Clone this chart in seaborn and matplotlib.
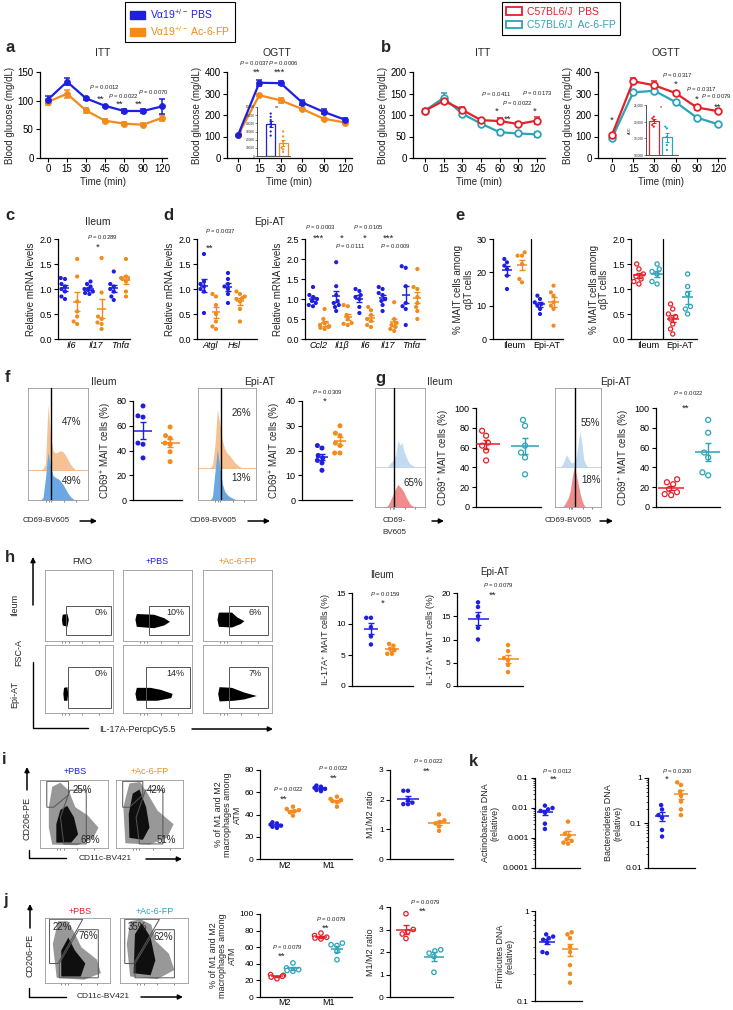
import warnings
warnings.filterwarnings('ignore')
import numpy as np
import pandas as pd
import matplotlib
matplotlib.use('Agg')
import matplotlib.pyplot as plt
import matplotlib.patches as mpatches
from matplotlib.lines import Line2D
from matplotlib.ticker import NullFormatter
import seaborn as sns

# ---------------- data ----------------
itt_time = ['0', '15', '30', '45', '60', '90', '120']
ogtt_time = ['0', '15', '30', '60', '90', '120']

a_itt_pbs = [102, 133, 104, 91, 82, 82, 90]
a_itt_pbs_sem = [6, 6, 2, 2, 4, 4, 13]
a_itt_fp = [98, 112, 83, 65, 60, 58, 70]
a_itt_fp_sem = [5, 7, 4, 3, 2, 3, 5]
a_ogtt_pbs = [105, 350, 348, 258, 215, 178]
a_ogtt_pbs_sem = [3, 15, 10, 12, 12, 10]
a_ogtt_fp = [105, 292, 268, 228, 183, 165]
a_ogtt_fp_sem = [3, 5, 10, 5, 5, 5]
a_auc_pbs = [52000, 48000, 44000, 40000, 36000, 30000, 25000]
a_auc_fp = [30000, 24000, 18000, 15000, 10000, 8000, 5000]

b_itt_pbs = [110, 133, 112, 88, 86, 79, 87]
b_itt_pbs_sem = [3, 5, 7, 3, 8, 4, 8]
b_itt_fp = [110, 140, 103, 80, 60, 57, 55]
b_itt_fp_sem = [3, 12, 4, 3, 6, 3, 5]
b_ogtt_pbs = [108, 357, 338, 302, 235, 218]
b_ogtt_pbs_sem = [5, 15, 20, 10, 12, 8]
b_ogtt_fp = [93, 305, 313, 260, 188, 157]
b_ogtt_fp_sem = [4, 8, 8, 5, 4, 5]
b_auc_pbs = [21500, 21000, 20500, 19000, 18500]
b_auc_fp = [18500, 18000, 15500, 13000, 11500]

c_genes = ['Il6', 'Il17', 'Tnfα']
c_il6_pbs = [1.2, 1.22, 1.1, 1.05, 1.0, 0.95, 0.85, 0.8]
c_il6_fp = [1.6, 1.25, 0.75, 0.55, 0.45, 0.35, 0.3]
c_il17_pbs = [1.15, 1.1, 1.05, 1.0, 0.98, 0.95, 0.92, 0.9]
c_il17_fp = [1.62, 0.93, 0.45, 0.4, 0.33, 0.3, 0.2]
c_tnf_pbs = [1.35, 1.1, 1.05, 1.0, 0.95, 0.85, 0.78]
c_tnf_fp = [1.6, 1.25, 1.22, 1.2, 1.2, 1.15, 0.95, 0.85]

d1_genes = ['Atgl', 'Hsl']
d_atgl_pbs = [1.7, 1.15, 1.1, 1.05, 1.0, 0.95, 0.52]
d_atgl_fp = [0.9, 0.85, 0.68, 0.5, 0.35, 0.25, 0.2]
d_hsl_pbs = [1.32, 1.2, 1.1, 1.05, 1.0, 0.9, 0.72]
d_hsl_fp = [0.95, 0.9, 0.85, 0.82, 0.8, 0.75, 0.6, 0.35]

d2_genes = ['Ccl2', 'Il1β', 'Il6', 'Il17', 'Tnfα']
d_ccl2_pbs = [1.3, 1.1, 1.05, 1.0, 0.95, 0.9, 0.85, 0.82]
d_ccl2_fp = [0.75, 0.5, 0.4, 0.35, 0.32, 0.3, 0.28, 0.25]
d_il1b_pbs = [1.92, 1.32, 1.1, 0.95, 0.9, 0.85, 0.8, 0.7]
d_il1b_fp = [0.85, 0.82, 0.6, 0.5, 0.4, 0.38, 0.35]
d_il6_pbs = [1.25, 1.2, 1.1, 1.05, 1.0, 0.8, 0.65]
d_il6_fp = [0.8, 0.72, 0.6, 0.5, 0.45, 0.35, 0.3]
d_il17_pbs = [1.3, 1.25, 1.15, 1.1, 1.0, 0.95, 0.85, 0.7]
d_il17_fp = [0.92, 0.5, 0.4, 0.35, 0.3, 0.25, 0.2]
d_tnf_pbs = [1.82, 1.78, 1.32, 0.9, 0.82, 0.75, 0.35]
d_tnf_fp = [1.75, 1.3, 1.25, 1.05, 0.9, 0.8, 0.7, 0.5]

tissues = ['Ileum', 'Epi-AT']
e_va_ileum_pbs = [24, 23, 22, 21, 19, 15]
e_va_ileum_fp = [26, 25, 25, 22.5, 18, 17]
e_va_epi_pbs = [13, 12, 11, 10.5, 10, 9, 7.5]
e_va_epi_fp = [16, 14, 13, 11, 10, 9, 4]
e_wt_ileum_pbs = [1.5, 1.4, 1.3, 1.25, 1.2, 1.15, 1.1]
e_wt_ileum_fp = [1.5, 1.4, 1.35, 1.3, 1.15, 1.1]
e_wt_epi_pbs = [0.7, 0.6, 0.5, 0.45, 0.4, 0.3, 0.2, 0.1]
e_wt_epi_fp = [1.3, 1.05, 0.9, 0.65, 0.6, 0.5]

f_ileum_pbs = [76, 68, 67, 46, 45, 34]
f_ileum_fp = [59, 52, 50, 46, 45, 39, 31]
f_epi_pbs = [22, 21, 18, 17, 16, 15, 12]
f_epi_fp = [30, 27, 26, 23, 22, 19, 19]
# flow histograms (bin heights, fraction of panel height)
f_hist_ileum_fp = [0, 0, 0, 0, 0, 0, 0.01, 0.05, 0.58, 0.30, 0.17, 0.15, 0.16, 0.17, 0.16, 0.13, 0.09, 0.05, 0.02, 0, 0, 0, 0, 0, 0]
f_hist_ileum_pbs = [0, 0, 0, 0, 0, 0, 0.02, 0.2, 0.43, 0.3, 0.22, 0.2, 0.19, 0.17, 0.14, 0.1, 0.06, 0.03, 0.01, 0, 0, 0, 0, 0, 0]
f_hist_epi_fp = [0, 0, 0, 0, 0, 0, 0.02, 0.2, 0.52, 0.4, 0.25, 0.17, 0.13, 0.11, 0.08, 0.05, 0.03, 0.01, 0, 0, 0, 0, 0, 0, 0]
f_hist_epi_pbs = [0, 0, 0, 0, 0, 0, 0.03, 0.25, 0.45, 0.3, 0.15, 0.08, 0.05, 0.03, 0.02, 0.01, 0, 0, 0, 0, 0, 0, 0, 0, 0]

g_ileum_pbs = [77, 72, 65, 62, 57, 47]
g_ileum_fp = [88, 82, 62, 55, 50, 33]
g_epi_pbs = [28, 25, 23, 18, 15, 13, 12]
g_epi_fp = [88, 75, 55, 50, 35, 32]
g_hist_ileum_fp = [0, 0, 0, 0, 0, 0, 0, 0.02, 0.04, 0.06, 0.1, 0.22, 0.18, 0.2, 0.12, 0.08, 0.04, 0.02, 0.01, 0, 0, 0, 0, 0, 0]
g_hist_ileum_pbs = [0, 0, 0, 0, 0, 0, 0.01, 0.04, 0.08, 0.12, 0.16, 0.19, 0.17, 0.15, 0.12, 0.08, 0.05, 0.02, 0.01, 0, 0, 0, 0, 0, 0]
g_hist_epi_fp = [0, 0, 0, 0, 0.02, 0.06, 0.1, 0.07, 0.04, 0.03, 0.04, 0.08, 0.18, 0.3, 0.2, 0.06, 0.02, 0, 0, 0, 0, 0, 0, 0, 0]
g_hist_epi_pbs = [0, 0, 0, 0, 0, 0.02, 0.05, 0.08, 0.14, 0.25, 0.34, 0.28, 0.2, 0.12, 0.06, 0.02, 0, 0, 0, 0, 0, 0, 0, 0, 0]

h_ileum_pbs = [11, 11, 9.5, 8, 6.7]
h_ileum_fp = [6.8, 6.5, 6, 5.8, 5.2, 5.2]
h_epi_pbs = [18, 17, 15, 12.5, 10]
h_epi_fp = [8.8, 7.5, 6, 5.5, 4.5, 3]
h_pct = ['0%', '10%', '6%', '0%', '14%', '7%']

macro = ['M2', 'M1']
i_m2_pbs = [33, 32, 31, 30, 29, 28]
i_m2_fp = [47, 45, 44, 43, 42, 39]
i_m1_pbs = [66, 65, 64, 63, 62, 61]
i_m1_fp = [56, 54, 53, 52, 51, 47]
i_ratio_pbs = [2.3, 2.3, 2.0, 1.9, 1.85, 1.85]
i_ratio_fp = [1.5, 1.3, 1.25, 1.2, 1.1, 0.95]
i_pct = ['25%', '68%', '42%', '51%']

k_actino_pbs = [0.012, 0.01, 0.009, 0.008, 0.007, 0.003, 0.002]
k_actino_fp = [0.0035, 0.0014, 0.0012, 0.0009, 0.0008, 0.0007, 0.00065]
k_bacter_pbs = [0.25, 0.2, 0.15, 0.13, 0.07, 0.05]
k_bacter_fp = [0.8, 0.7, 0.5, 0.4, 0.3, 0.2, 0.15]
k_firm_pbs = [0.55, 0.52, 0.5, 0.48, 0.45, 0.35, 0.34]
k_firm_fp = [0.58, 0.55, 0.5, 0.4, 0.35, 0.25, 0.2, 0.16]

j_m2_pbs = [27, 26, 25, 24, 22]
j_m2_fp = [41, 35, 33, 32, 31]
j_m1_pbs = [77, 74, 72, 71, 70]
j_m1_fp = [65, 63, 62, 55, 45]
j_ratio_pbs = [3.7, 3.0, 2.9, 2.8, 2.6]
j_ratio_fp = [2.1, 2.05, 1.95, 1.8, 1.1]
j_pct = ['22%', '76%', '35%', '62%']

# ---------------- style ----------------
BLUE = '#1f1fe0'
ORANGE = '#f28a1c'
RED = '#e4202a'
TEAL = '#2ba3b8'

sns.set_theme(style='ticks')
plt.rcParams['font.family'] = ['Liberation Sans', 'DejaVu Sans']
plt.rcParams['mathtext.fontset'] = 'custom'
plt.rcParams['mathtext.rm'] = 'Liberation Sans'
plt.rcParams['mathtext.it'] = 'Liberation Sans:italic'
plt.rcParams['mathtext.bf'] = 'Liberation Sans:bold'

W, H = 733, 1010
fig = plt.figure(figsize=(W / 100, H / 100), dpi=100)
fig.patch.set_facecolor('white')


def axpx(l, t, r, b):
    return fig.add_axes([l / W, 1 - b / H, (r - l) / W, (b - t) / H])


def T(x, y, s, size=6.5, ha='center', va='center', **kw):
    fig.text(x / W, 1 - y / H, s, fontsize=size, ha=ha, va=va, **kw)


def P(x, y, s):
    T(x, y, r'$P$ = ' + s, size=4.3)


def S(x, y, s):
    T(x, y + 3, s, size=6.8)


def arrow(x1, y1, x2, y2):
    fig.add_artist(mpatches.FancyArrowPatch((x1 / W, 1 - y1 / H), (x2 / W, 1 - y2 / H),
                                            transform=fig.transFigure, arrowstyle='-|>',
                                            mutation_scale=7, lw=1.1, color='black',
                                            shrinkA=0, shrinkB=0))


def seg(xs, ys, lw=1.0):
    fig.add_artist(Line2D([x / W for x in xs], [1 - y / H for y in ys],
                          transform=fig.transFigure, color='black', lw=lw))


def style(ax, fs=6.5):
    sns.despine(ax=ax)
    ax.set_facecolor('none')
    for sp in ('left', 'bottom'):
        ax.spines[sp].set_linewidth(0.9)
        ax.spines[sp].set_color('black')
    ax.tick_params(labelsize=fs, length=3, width=0.8, pad=1.5, color='black', labelcolor='black')


def glucose(rect, times, m1, s1, m2, s2, c1, c2, hollow, ylim, yticks, xlim):
    ax = axpx(*rect)
    x = np.arange(len(times))
    for m, s, c in ((m2, s2, c2), (m1, s1, c1)):
        ax.errorbar(x, m, yerr=s, fmt='none', ecolor=c, elinewidth=1.1, capsize=2,
                    capthick=1.1, zorder=2)
        sns.lineplot(x=x, y=m, ax=ax, color=c, linewidth=1.6, marker='o',
                     markersize=4.8 if hollow else 4.4,
                     markerfacecolor='white' if hollow else c, markeredgecolor=c,
                     markeredgewidth=1.3 if hollow else 0.5, zorder=3)
    ax.set_xticks(x, times)
    ax.set_xlim(*xlim)
    ax.set_ylim(*ylim)
    ax.set_yticks(yticks)
    style(ax, 7)
    ax.set_xlabel('Time (min)', fontsize=7, labelpad=2)
    ax.set_ylabel('Blood glucose (mg/dL)', fontsize=7, labelpad=2)
    return ax


def auc_inset(rect, v1, v2, c1, c2, ylim, yticks, ylabels, xlim):
    ax = axpx(*rect)
    df = pd.DataFrame({'g': ['P'] * len(v1) + ['A'] * len(v2), 'v': list(v1) + list(v2)})
    pal = {'P': c1, 'A': c2}
    sns.barplot(data=df, x='g', y='v', hue='g', order=['P', 'A'], palette=pal, fill=False,
                errorbar=None, linewidth=0.9, width=0.72, legend=False, ax=ax)
    sns.swarmplot(data=df, x='g', y='v', hue='g', order=['P', 'A'], palette=pal, size=1.6,
                  legend=False, ax=ax)
    for i, (v, c) in enumerate(((v1, c1), (v2, c2))):
        m = np.mean(v)
        s = np.std(v, ddof=1) / np.sqrt(len(v))
        ax.errorbar(i, m, yerr=s, color=c, lw=0.7, capsize=1.2, capthick=0.7)
    ax.set_ylim(*ylim)
    ax.set_xlim(*xlim)
    ax.set_yticks(yticks, ylabels)
    ax.set_xticks([])
    ax.set_xlabel('')
    ax.set_ylabel('AUC', fontsize=2.6, labelpad=1)
    sns.despine(ax=ax)
    ax.set_facecolor('none')
    for sp in ('left', 'bottom'):
        ax.spines[sp].set_linewidth(0.6)
        ax.spines[sp].set_color('#333333')
    ax.tick_params(labelsize=2.3, length=1.2, width=0.4, pad=0.5)
    return ax


def dots(rect, groups, pos, colors, xlim, ylim, yticks, ylabels=None, hollow=False,
         size=3.0, mw=0.7, log=False, fs=6.5):
    ax = axpx(*rect)
    if log:
        ax.set_yscale('log')
    n = [len(g) for g in groups]
    df = pd.DataFrame({'pos': np.repeat(pos, n),
                       'val': np.concatenate([np.asarray(g, float) for g in groups]),
                       'grp': np.repeat([str(i) for i in range(len(groups))], n)})
    pal = {str(i): c for i, c in enumerate(colors)}
    n0 = len(ax.collections)
    sns.swarmplot(data=df, x='pos', y='val', hue='grp', palette=pal, native_scale=True,
                  size=size, legend=False, linewidth=0, zorder=3, ax=ax)
    if hollow:
        for coll in ax.collections[n0:]:
            fc = coll.get_facecolor()
            coll.set_facecolor('white')
            coll.set_edgecolor(fc)
            coll.set_linewidth(0.9)
    for g, p, c in zip(groups, pos, colors):
        m = np.mean(g)
        s = np.std(g, ddof=1) / np.sqrt(len(g))
        ax.hlines(m, p - mw / 2, p + mw / 2, color=c, lw=1.1, zorder=4)
        ax.errorbar(p, m, yerr=s, color=c, lw=1.0, capsize=2.2, capthick=1.0, zorder=4)
    ax.set_xlim(*xlim)
    ax.set_ylim(*ylim)
    if ylabels is None:
        ax.set_yticks(yticks)
    else:
        ax.set_yticks(yticks, ylabels)
    if log:
        ax.yaxis.set_minor_formatter(NullFormatter())
    ax.set_xlabel('')
    ax.set_ylabel('')
    style(ax, fs)
    ax.tick_params(axis='x', length=0)
    ax.tick_params(axis='y', which='minor', length=1.6, width=0.6)
    ax.set_xticks([])
    return ax


def flowhist(rect, top, bot, base, ctop, cbot, cline, gate, labs):
    ax = axpx(*rect)
    x = np.linspace(0, 1, len(top))
    ax.fill_between(x, base, base + np.asarray(top), color=ctop, lw=0, zorder=1)
    ax.fill_between(x, 0, bot, color=cbot, lw=0, zorder=2)
    ax.axhline(base, color=cline, lw=0.6, zorder=1.5)
    ax.axvline(gate, color='black', lw=1.0, zorder=4)
    for lx, ly, s in labs:
        ax.text(lx, ly, s, transform=ax.transAxes, fontsize=7, ha='center', va='center')
    ax.set_xlim(0, 1)
    ax.set_ylim(0, 1)
    ax.set_xticks([0.3, 0.35, 0.38, 0.6, 0.8])
    ax.set_yticks([])
    ax.tick_params(axis='x', length=1.5, width=0.5, labelbottom=False, color='#555555')
    for sp in ax.spines.values():
        sp.set_color('#9a9a9a')
        sp.set_linewidth(0.6)
    return ax


def flowdots(rect, clouds, gates, labs, fs=6.5):
    ax = axpx(*rect)
    for poly, col, alpha in clouds:
        ax.add_patch(mpatches.Polygon(poly, closed=True, facecolor=col, edgecolor='none',
                                      alpha=alpha))
    for g in gates:
        ax.add_patch(mpatches.Polygon(g, closed=True, fill=False, edgecolor='#555555', lw=0.7))
    for lx, ly, s in labs:
        ax.text(lx, ly, s, transform=ax.transAxes, fontsize=fs, ha='center', va='center')
    ax.set_xlim(0, 1)
    ax.set_ylim(0, 1)
    ax.set_xticks([0.25, 0.3, 0.35, 0.55, 0.8])
    ax.set_yticks([])
    ax.tick_params(axis='x', length=1.5, width=0.5, labelbottom=False, color='#555555')
    for sp in ax.spines.values():
        sp.set_color('#9a9a9a')
        sp.set_linewidth(0.6)
    return ax


# ---------------- legends ----------------
leg1 = fig.legend([mpatches.Patch(facecolor=BLUE, edgecolor=BLUE),
                   mpatches.Patch(facecolor=ORANGE, edgecolor=ORANGE)],
                  ['Vα19$^{+/-}$ PBS', 'Vα19$^{+/-}$ Ac-6-FP'],
                  loc='upper center', bbox_to_anchor=(180 / W, 1.003), fontsize=7.5,
                  labelcolor=[BLUE, ORANGE], frameon=True, fancybox=False, edgecolor='black',
                  framealpha=1, handlelength=1.5, handleheight=0.75, borderpad=0.45,
                  labelspacing=0.3, handletextpad=0.5)
leg1.get_frame().set_linewidth(0.8)
leg2 = fig.legend([mpatches.Patch(facecolor='white', edgecolor=RED, lw=1.3),
                   mpatches.Patch(facecolor='white', edgecolor=TEAL, lw=1.3)],
                  ['C57BL6/J  PBS', 'C57BL6/J  Ac-6-FP'],
                  loc='upper center', bbox_to_anchor=(561 / W, 1.003), fontsize=7.5,
                  labelcolor=[RED, TEAL], frameon=True, fancybox=False, edgecolor='black',
                  framealpha=1, handlelength=1.5, handleheight=0.75, borderpad=0.45,
                  labelspacing=0.3, handletextpad=0.5)
leg2.get_frame().set_linewidth(0.8)

# ---------------- panel a ----------------
glucose((40, 72, 167, 158), itt_time, a_itt_pbs, a_itt_pbs_sem, a_itt_fp, a_itt_fp_sem,
        BLUE, ORANGE, False, (0, 150), [0, 50, 100, 150], (-0.42, 6.26))
glucose((227, 72, 352, 158), ogtt_time, a_ogtt_pbs, a_ogtt_pbs_sem, a_ogtt_fp, a_ogtt_fp_sem,
        BLUE, ORANGE, False, (0, 400), [0, 100, 200, 300, 400], (-0.51, 5.33))
auc_inset((257, 107, 290, 156), a_auc_pbs, a_auc_fp, BLUE, ORANGE, (0, 60000),
          [0, 10000, 20000, 30000, 40000, 50000, 60000],
          ['0', '10000', '20000', '30000', '40000', '50000', '60000'], (-1.1, 1.55))
T(5, 48, 'a', 12, ha='left', weight='bold')
T(103, 53, 'ITT', 7.5)
T(277, 53, 'OGTT', 7.5)
P(104, 87, '0.0012'); S(101, 96, '**')
P(123, 96, '0.0022'); S(120, 101, '**')
P(153, 92, '0.0070'); S(139, 101, '**')
P(254, 63, '0.0037'); S(257, 69, '**')
P(283, 63, '0.0006'); S(279, 69, '***')
T(277, 108, '**', 4)

# ---------------- panel b ----------------
glucose((413, 72, 545, 158), itt_time, b_itt_pbs, b_itt_pbs_sem, b_itt_fp, b_itt_fp_sem,
        RED, TEAL, True, (0, 200), [0, 50, 100, 150, 200], (-0.64, 6.43))
glucose((598, 72, 725, 158), ogtt_time, b_ogtt_pbs, b_ogtt_pbs_sem, b_ogtt_fp, b_ogtt_fp_sem,
        RED, TEAL, True, (0, 400), [0, 100, 200, 300, 400], (-0.66, 5.33))
auc_inset((646, 105, 678, 155), b_auc_pbs, b_auc_fp, RED, TEAL, (10000, 25000),
          [10000, 15000, 20000, 25000], ['10,000', '15,000', '20,000', '25,000'], (-0.6, 1.85))
T(381, 48, 'b', 12, ha='left', weight='bold')
T(483, 53, 'ITT', 7.5)
T(666, 53, 'OGTT', 7.5)
P(496, 94, '0.0411'); S(497, 108, '*')
P(517, 103, '0.0022'); S(508, 116, '**')
P(537, 93, '0.0173'); S(535, 108, '*')
S(612, 117, '*')
P(677, 75, '0.0317'); S(676, 81, '*')
P(701, 89, '0.0317'); S(697, 96, '*')
P(716, 96, '0.0079'); S(718, 104, '**')
T(661, 108, '*', 4)

# ---------------- panel c ----------------
ax = dots((58, 239, 130, 339), [c_il6_pbs, c_il6_fp, c_il17_pbs, c_il17_fp, c_tnf_pbs, c_tnf_fp],
          [0, 1, 2, 3, 4, 5], [BLUE, ORANGE] * 3, (-0.57, 5.33), (0, 2),
          [0, 0.5, 1, 1.5, 2], ['0.0', '0.5', '1.0', '1.5', '2.0'])
ax.set_xticks([0.5, 2.5, 4.5], c_genes, fontstyle='italic')
ax.set_ylabel('Relative mRNA levels', fontsize=7, labelpad=2)
T(5, 215, 'c', 12, ha='left', weight='bold')
T(98, 222, 'Ileum', 7.5)
P(102, 237, '0.0289'); S(98, 244, '*')

# ---------------- panel d ----------------
ax = dots((197, 239, 257, 339), [d_atgl_pbs, d_atgl_fp, d_hsl_pbs, d_hsl_fp], [0, 1, 2, 3],
          [BLUE, ORANGE] * 2, (-0.58, 4.42), (0, 2), [0, 0.5, 1, 1.5, 2],
          ['0.0', '0.5', '1.0', '1.5', '2.0'])
ax.set_xticks([0.5, 2.5], d1_genes, fontstyle='italic')
ax.set_ylabel('Relative mRNA levels', fontsize=7, labelpad=2)
ax = dots((305, 239, 425, 339),
          [d_ccl2_pbs, d_ccl2_fp, d_il1b_pbs, d_il1b_fp, d_il6_pbs, d_il6_fp,
           d_il17_pbs, d_il17_fp, d_tnf_pbs, d_tnf_fp],
          list(range(10)), [BLUE, ORANGE] * 5, (-0.69, 9.66), (0, 2.5),
          [0, 0.5, 1, 1.5, 2, 2.5], ['0.0', '0.5', '1.0', '1.5', '2.0', '2.5'])
ax.set_xticks([0.5, 2.5, 4.5, 6.5, 8.5], d2_genes, fontstyle='italic')
ax.set_ylabel('Relative mRNA levels', fontsize=7, labelpad=2)
T(163, 215, 'd', 12, ha='left', weight='bold')
T(270, 222, 'Epi-AT', 7.5)
P(220, 231, '0.0037'); S(210, 245, '**')
P(320, 227, '0.0003'); S(318, 235, '***')
P(368, 227, '0.0105'); S(342, 235, '*')
P(350, 246, '0.0111'); S(365, 235, '*')
S(388, 235, '***'); P(395, 246, '0.0009')

# ---------------- panel e ----------------
ax = dots((493, 239, 563, 339), [e_va_ileum_pbs, e_va_ileum_fp, e_va_epi_pbs, e_va_epi_fp],
          [0, 1, 2.2, 3.1], [BLUE, ORANGE] * 2, (-0.93, 3.73), (0, 30), [0, 10, 20, 30])
ax.axvline(1.6, color='black', lw=0.9)
ax.set_xticks([0.5, 2.65], tissues)
ax.set_ylabel('% MAIT cells among\nαβT cells', fontsize=7, labelpad=2, linespacing=1.1)
ax = dots((631, 239, 697, 339), [e_wt_ileum_pbs, e_wt_ileum_fp, e_wt_epi_pbs, e_wt_epi_fp],
          [0, 1.1, 2.05, 2.95], [RED, TEAL] * 2, (-0.48, 3.52), (0, 2),
          [0, 0.5, 1, 1.5, 2], ['0.0', '0.5', '1.0', '1.5', '2.0'], hollow=True)
ax.axvline(1.45, color='black', lw=0.9)
ax.set_xticks([0.55, 2.5], tissues)
ax.set_ylabel('% MAIT cells among\nαβT cells', fontsize=7, labelpad=2, linespacing=1.1)
T(455, 215, 'e', 12, ha='left', weight='bold')

# ---------------- panel f ----------------
T(5, 378, 'f', 12, ha='left', weight='bold')
T(104, 382, 'Ileum', 7.5)
T(260, 382, 'Epi-AT', 7.5)
flowhist((28, 388, 88, 500), f_hist_ileum_fp, f_hist_ileum_pbs, 0.27, '#f6c293', '#6aa7e3',
         '#f0b27a', 0.38, [(0.73, 0.7, '47%'), (0.73, 0.17, '49%')])
flowhist((198, 388, 256, 500), f_hist_epi_fp, f_hist_epi_pbs, 0.29, '#f6c293', '#6aa7e3',
         '#f0b27a', 0.39, [(0.74, 0.78, '26%'), (0.74, 0.2, '13%')])
ax = dots((133, 401, 182, 500), [f_ileum_pbs, f_ileum_fp], [0, 1], [BLUE, ORANGE],
          (-0.37, 1.44), (0, 80), [0, 20, 40, 60, 80], size=3.6)
ax.set_ylabel('CD69$^{+}$ MAIT cells (%)', fontsize=7, labelpad=2)
ax = dots((302, 401, 352, 500), [f_epi_pbs, f_epi_fp], [0, 1], [BLUE, ORANGE],
          (-1.11, 1.67), (0, 40), [0, 10, 20, 30, 40], size=3.6)
ax.set_ylabel('CD69$^{+}$ MAIT cells (%)', fontsize=7, labelpad=2)
P(327, 392, '0.0309'); S(325, 398, '*')
T(46, 521, 'CD69-BV605', 5.8); arrow(80, 521, 97, 521)
T(213, 521, 'CD69-BV605', 5.8); arrow(248, 521, 270, 521)

# ---------------- panel g ----------------
T(375, 378, 'g', 12, ha='left', weight='bold')
T(440, 382, 'Ileum', 7.5)
T(616, 382, 'Epi-AT', 7.5)
flowhist((375, 388, 425, 507), g_hist_ileum_fp, g_hist_ileum_pbs, 0.34, '#c2dbf2', '#f08c8c',
         '#b9cde0', 0.37, [(0.76, 0.2, '65%')])
flowhist((555, 388, 601, 507), g_hist_epi_fp, g_hist_epi_pbs, 0.34, '#c2dbf2', '#f08c8c',
         '#b9cde0', 0.43, [(0.77, 0.71, '55%'), (0.78, 0.23, '18%')])
ax = dots((476, 408, 541, 507), [g_ileum_pbs, g_ileum_fp], [0, 1], [RED, TEAL],
          (-0.26, 1.41), (0, 100), [0, 20, 40, 60, 80, 100], hollow=True, size=3.6)
ax.set_ylabel('CD69$^{+}$ MAIT cells (%)', fontsize=7, labelpad=2)
ax = dots((656, 408, 720, 507), [g_epi_pbs, g_epi_fp], [0, 1], [RED, TEAL],
          (-0.41, 1.32), (0, 100), [0, 20, 40, 60, 80, 100], hollow=True, size=3.6)
ax.set_ylabel('CD69$^{+}$ MAIT cells (%)', fontsize=7, labelpad=2)
P(688, 393, '0.0022'); S(686, 405, '**')
T(394, 521, 'CD69-', 5.8); T(394, 533, 'BV605', 5.8); arrow(432, 521, 444, 521)
T(568, 521, 'CD69-BV605', 5.8); arrow(600, 521, 613, 521)

# ---------------- panel h ----------------
T(5, 558, 'h', 12, ha='left', weight='bold')
T(82, 562, 'FMO', 6.5)
T(157, 562, '+PBS', 6.5, color=BLUE)
T(238, 562, '+Ac-6-FP', 6.5, color=ORANGE)
h_clouds = [
    [(0.26, 0.22), (0.33, 0.2), (0.35, 0.3), (0.33, 0.38), (0.26, 0.37), (0.25, 0.3)],
    [(0.2, 0.2), (0.45, 0.18), (0.6, 0.22), (0.68, 0.27), (0.6, 0.32), (0.45, 0.37), (0.2, 0.38), (0.18, 0.3)],
    [(0.23, 0.2), (0.42, 0.19), (0.55, 0.24), (0.6, 0.28), (0.5, 0.33), (0.42, 0.4), (0.23, 0.4), (0.21, 0.3)],
    [(0.28, 0.18), (0.33, 0.18), (0.34, 0.28), (0.33, 0.38), (0.28, 0.37), (0.27, 0.28)],
    [(0.2, 0.18), (0.5, 0.18), (0.7, 0.22), (0.72, 0.28), (0.55, 0.34), (0.4, 0.37), (0.2, 0.37), (0.18, 0.28)],
    [(0.24, 0.17), (0.45, 0.18), (0.6, 0.2), (0.78, 0.25), (0.6, 0.3), (0.42, 0.37), (0.24, 0.38), (0.22, 0.28)],
]
h_gates = [(0.31, 0.97, 0.08, 0.5), (0.38, 0.96, 0.08, 0.5), (0.38, 0.94, 0.08, 0.5),
           (0.34, 0.97, 0.08, 0.68), (0.33, 0.97, 0.08, 0.68), (0.37, 0.94, 0.08, 0.68)]
h_cols = [(45, 113), (123, 192), (203, 272)]
for k in range(6):
    l, r = h_cols[k % 3]
    t, b = ((570, 641), (645, 713))[k // 3]
    gx0, gx1, gy0, gy1 = h_gates[k]
    flowdots((l, t, r, b), [(h_clouds[k], 'black', 1.0)],
             [[(gx0, gy0), (gx1, gy0), (gx1, gy1), (gx0, gy1)]],
             [(0.82 if k % 3 == 0 else 0.76, 0.4 if k < 3 else 0.58, h_pct[k])])
T(15, 605, 'Ileum', 6.5, rotation=90)
T(19, 652, 'FSC-A', 6.5, rotation=90)
T(15, 695, 'Epi-AT', 6.5, rotation=90)
arrow(33, 605, 33, 557)
seg([33, 33, 88], [662, 728, 728])
T(137, 730, 'IL-17A-PercpCy5.5', 6.5)
arrow(192, 729, 273, 729)

ax = dots((352, 593, 413, 686), [h_ileum_pbs, h_ileum_fp], [0, 1], [BLUE, ORANGE],
          (-0.9, 2.0), (0, 15), [0, 5, 10, 15], size=3.2, fs=6)
ax.set_ylabel('IL-17A$^{+}$ MAIT cells (%)', fontsize=6.5, labelpad=2)
ax = dots((457, 593, 523, 686), [h_epi_pbs, h_epi_fp], [0, 1], [BLUE, ORANGE],
          (-0.7, 1.5), (0, 20), [0, 5, 10, 15, 20], size=3.2, fs=6)
ax.set_ylabel('IL-17A$^{+}$ MAIT cells (%)', fontsize=6.5, labelpad=2)
T(382, 575, 'Ileum', 7)
T(495, 572, 'Epi-AT', 7)
P(385, 594, '0.0159'); S(383, 600, '*')
P(498, 585, '0.0079'); S(493, 592, '**')

# ---------------- panel i ----------------
T(2, 760, 'i', 12, ha='left', weight='bold')
T(75, 772, '+PBS', 6.5, color=BLUE)
T(150, 772, '+Ac-6-FP', 6.5, color=ORANGE)
i_clouds = [
    [([(0.18, 0.05), (0.55, 0.04), (0.78, 0.14), (0.86, 0.3), (0.7, 0.48), (0.52, 0.6), (0.42, 0.85), (0.3, 0.96), (0.18, 0.9), (0.13, 0.6), (0.13, 0.3)], '#444444', 0.55),
     ([(0.24, 0.08), (0.46, 0.08), (0.56, 0.2), (0.5, 0.45), (0.4, 0.62), (0.3, 0.56), (0.24, 0.35)], 'black', 0.9)],
    [([(0.14, 0.07), (0.5, 0.05), (0.76, 0.15), (0.86, 0.35), (0.62, 0.55), (0.46, 0.82), (0.36, 0.97), (0.2, 0.95), (0.11, 0.6)], '#444444', 0.55),
     ([(0.2, 0.15), (0.4, 0.12), (0.5, 0.3), (0.45, 0.6), (0.35, 0.86), (0.25, 0.8), (0.19, 0.5)], 'black', 0.9)],
]
i_gates = [
    [[(0.1, 0.6), (0.1, 0.98), (0.42, 0.98), (0.42, 0.78), (0.2, 0.6)],
     [(0.35, 0.06), (0.68, 0.06), (0.68, 0.85), (0.44, 0.85), (0.3, 0.45)]],
    [[(0.1, 0.6), (0.1, 0.98), (0.4, 0.98), (0.4, 0.78), (0.2, 0.6)],
     [(0.35, 0.06), (0.7, 0.06), (0.7, 0.85), (0.44, 0.85), (0.3, 0.45)]],
]
flowdots((40, 780, 108, 848), i_clouds[0], i_gates[0],
         [(0.62, 0.85, i_pct[0]), (0.74, 0.12, i_pct[1])], fs=7)
flowdots((116, 780, 183, 848), i_clouds[1], i_gates[1],
         [(0.6, 0.85, i_pct[2]), (0.75, 0.12, i_pct[3])], fs=7)
arrow(27, 790, 27, 767)
T(27, 818, 'CD206-PE', 6.5, rotation=90)
seg([29, 29, 66], [850, 858, 858])
T(105, 859, 'CD11c-BV421', 6)
arrow(146, 859, 182, 859)

ax = dots((260, 770, 352, 859), [i_m2_pbs, i_m2_fp, i_m1_pbs, i_m1_fp], [0, 1, 2.75, 3.75],
          [BLUE, ORANGE] * 2, (-1.06, 4.69), (0, 80), [0, 20, 40, 60, 80], size=3.2, fs=6)
ax.set_xticks([0.5, 3.25], macro)
ax.tick_params(axis='x', labelsize=6.5)
ax.set_ylabel('% of M1 and M2\nmacrophages among\nATM', fontsize=6.5, labelpad=2, linespacing=1.05)
ax = dots((390, 770, 453, 859), [i_ratio_pbs, i_ratio_fp], [0, 1], [BLUE, ORANGE],
          (-0.58, 1.45), (0, 3), [0, 1, 2, 3], size=3.2, fs=6)
ax.set_ylabel('M1/M2 ratio', fontsize=6.5, labelpad=3)
P(288, 789, '0.0022'); S(284, 796, '**')
P(333, 768, '0.0022'); S(334, 775, '**')
P(428, 761, '0.0022'); S(427, 768, '**')

# ---------------- panel k ----------------
T(469, 761, 'k', 12, ha='left', weight='bold')
ax = dots((535, 778, 580, 868), [k_actino_pbs, k_actino_fp], [0, 1], [BLUE, ORANGE],
          (-0.43, 1.52), (0.0001, 0.1), [0.0001, 0.001, 0.01, 0.1],
          ['0.0001', '0.001', '0.01', '0.1'], size=3.2, log=True, fs=6)
ax.set_ylabel('Actinobacteria DNA\n(relative)', fontsize=6.5, labelpad=2, linespacing=1.05)
ax = dots((648, 778, 695, 868), [k_bacter_pbs, k_bacter_fp], [0, 1], [BLUE, ORANGE],
          (-0.74, 1.74), (0.01, 1), [0.01, 0.1, 1], ['0.01', '0.1', '1'], size=3.2,
          log=True, fs=6)
ax.set_ylabel('Bacteroidetes DNA\n(relative)', fontsize=6.5, labelpad=2, linespacing=1.05)
P(557, 771, '0.0012'); S(554, 776, '**')
P(677, 771, '0.0200'); S(667, 776, '*')

# ---------------- panel j ----------------
T(3, 900, 'j', 12, ha='left', weight='bold')
T(80, 911, '+PBS', 6.5, color=RED)
T(155, 911, '+Ac-6-FP', 6.5, color=TEAL)
j_clouds = [
    [([(0.18, 0.08), (0.6, 0.05), (0.86, 0.15), (0.8, 0.36), (0.56, 0.55), (0.46, 0.76), (0.35, 0.95), (0.2, 0.95), (0.12, 0.6)], '#444444', 0.55),
     ([(0.25, 0.1), (0.55, 0.1), (0.62, 0.3), (0.46, 0.5), (0.36, 0.7), (0.25, 0.5)], 'black', 0.9)],
    [([(0.15, 0.1), (0.55, 0.06), (0.8, 0.2), (0.72, 0.45), (0.52, 0.65), (0.46, 0.9), (0.3, 0.98), (0.15, 0.95), (0.1, 0.6)], '#444444', 0.55),
     ([(0.2, 0.15), (0.45, 0.12), (0.52, 0.35), (0.45, 0.7), (0.32, 0.92), (0.22, 0.75)], 'black', 0.9)],
]
j_gates = [
    [[(0.07, 0.3), (0.07, 0.98), (0.58, 0.98), (0.2, 0.3)],
     [(0.22, 0.08), (0.82, 0.08), (0.82, 0.82), (0.52, 0.82), (0.22, 0.3)]],
    [[(0.07, 0.3), (0.07, 0.98), (0.58, 0.98), (0.2, 0.3)],
     [(0.22, 0.08), (0.8, 0.08), (0.8, 0.82), (0.52, 0.82), (0.22, 0.3)]],
]
flowdots((45, 918, 110, 983), j_clouds[0], j_gates[0],
         [(0.26, 0.86, j_pct[0]), (0.66, 0.72, j_pct[1])], fs=7)
flowdots((120, 918, 188, 983), j_clouds[1], j_gates[1],
         [(0.25, 0.86, j_pct[2]), (0.63, 0.7, j_pct[3])], fs=7)
arrow(30, 928, 30, 904)
T(30, 955, 'CD206-PE', 6.5, rotation=90)
seg([29, 29, 66], [988, 997, 997])
T(103, 997, 'CD11c-BV421', 6)
arrow(141, 997, 183, 997)

ax = dots((260, 914, 352, 997), [j_m2_pbs, j_m2_fp, j_m1_pbs, j_m1_fp], [0, 1, 2.75, 3.75],
          [RED, TEAL] * 2, (-1.06, 4.69), (0, 100), [0, 20, 40, 60, 80, 100], hollow=True,
          size=3.2, fs=6)
ax.set_xticks([0.5, 3.25], macro)
ax.tick_params(axis='x', labelsize=6.5, pad=1)
ax.set_ylabel('% of M1 and M2\nmacrophages among\nATM', fontsize=6.5, labelpad=2, linespacing=1.05)
ax = dots((390, 907, 453, 997), [j_ratio_pbs, j_ratio_fp], [0, 1], [RED, TEAL],
          (-0.57, 1.68), (0, 4), [0, 1, 2, 3, 4], hollow=True, size=3.2, fs=6)
ax.set_ylabel('M1/M2 ratio', fontsize=6.5, labelpad=3)
P(287, 947, '0.0079'); S(282, 953, '**')
P(331, 919, '0.0079'); S(326, 925, '**')
P(425, 902, '0.0079'); S(423, 908, '**')
ax = dots((535, 911, 582, 1001), [k_firm_pbs, k_firm_fp], [0, 1], [BLUE, ORANGE],
          (-0.52, 1.52), (0.1, 1), [0.1, 1], ['0.1', '1'], size=3.2, log=True, fs=6)
ax.set_ylabel('Firmicutes DNA\n(relative)', fontsize=6.5, labelpad=2, linespacing=1.05)

fig.savefig('out.png', dpi=100, facecolor='white')
